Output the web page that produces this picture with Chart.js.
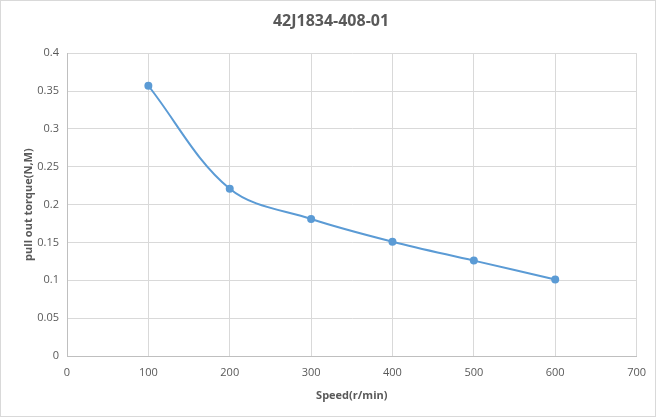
<!DOCTYPE html>
<html>
<head>
<meta charset="utf-8">
<script src="https://cdn.jsdelivr.net/npm/chart.js@4/dist/chart.umd.min.js"></script>
<style>
	html, body { margin: 0; padding: 0; background: #fff; }
	#wrap { width: 656px; height: 417px; position: relative; }
</style>
</head>
<body>
<div id="wrap"><canvas id="torque-chart" width="656" height="417"></canvas></div>
<script>
const chartTitle = "42J1834-408-01";
const speeds = [100, 200, 300, 400, 500, 600];
const torque = [0.357, 0.221, 0.181, 0.151, 0.126, 0.101];
const xTitle = "Speed(r/min)";
const yTitle = "pull out torque(N,M)";

const textColor = "#595959";
const gridColor = "#d9d9d9";
const lineColor = "#5b9bd5";
const fontFamily = "'Open Sans', 'Liberation Sans', sans-serif";

const frame = {
	id: "frame",
	beforeDraw(chart) {
		const ctx = chart.ctx;
		ctx.save();
		ctx.fillStyle = "#fff";
		ctx.fillRect(0, 0, chart.width, chart.height);
		ctx.strokeStyle = "#d9d9d9";
		ctx.lineWidth = 1;
		ctx.strokeRect(0.5, 0.5, chart.width - 1, chart.height - 1);
		ctx.restore();
	},
};

const ctx = document.getElementById("torque-chart").getContext("2d");

new Chart(ctx, {
	type: "line",
	data: {
		datasets: [
			{
				data: speeds.map((s, i) => ({ x: s, y: torque[i] })),
				borderColor: lineColor,
				backgroundColor: lineColor,
				borderWidth: 2,
				pointRadius: 4,
				pointBorderWidth: 0,
				pointBackgroundColor: lineColor,
				tension: 0.35,
				fill: false,
			},
		],
	},
	options: {
		responsive: false,
		animation: false,
		devicePixelRatio: 1,
		layout: {
			padding: { top: 12, right: 16, bottom: 15, left: 22 },
		},
		plugins: {
			legend: { display: false },
			tooltip: { enabled: false },
			title: {
				display: true,
				text: chartTitle,
				color: textColor,
				font: { family: fontFamily, size: 16, weight: "bold" },
				padding: { top: 0, bottom: 22 },
			},
		},
		scales: {
			x: {
				type: "linear",
				min: 0,
				max: 700,
				ticks: {
					stepSize: 100,
					color: textColor,
					font: { family: fontFamily, size: 11 },
					padding: 10,
				},
				grid: { color: gridColor, drawTicks: false },
				border: { color: "#bfbfbf" },
				title: {
					display: true,
					text: xTitle,
					color: textColor,
					font: { family: fontFamily, size: 11, weight: "bold" },
					padding: { top: 0, bottom: 0 },
				},
				afterFit(scale) {
					scale.height = 46;
				},
			},
			y: {
				min: 0,
				max: 0.4,
				ticks: {
					stepSize: 0.05,
					color: textColor,
					font: { family: fontFamily, size: 11 },
					padding: 8,
					callback: (v) => String(Math.round(v * 100) / 100),
				},
				grid: { color: gridColor, drawTicks: false },
				border: { color: "#bfbfbf" },
				title: {
					display: true,
					text: yTitle,
					color: textColor,
					font: { family: fontFamily, size: 11, weight: "bold" },
					padding: { top: 0, bottom: 4 },
				},
				afterFit(scale) {
					scale.width = 45;
				},
			},
		},
	},
	plugins: [frame],
});
</script>
</body>
</html>
